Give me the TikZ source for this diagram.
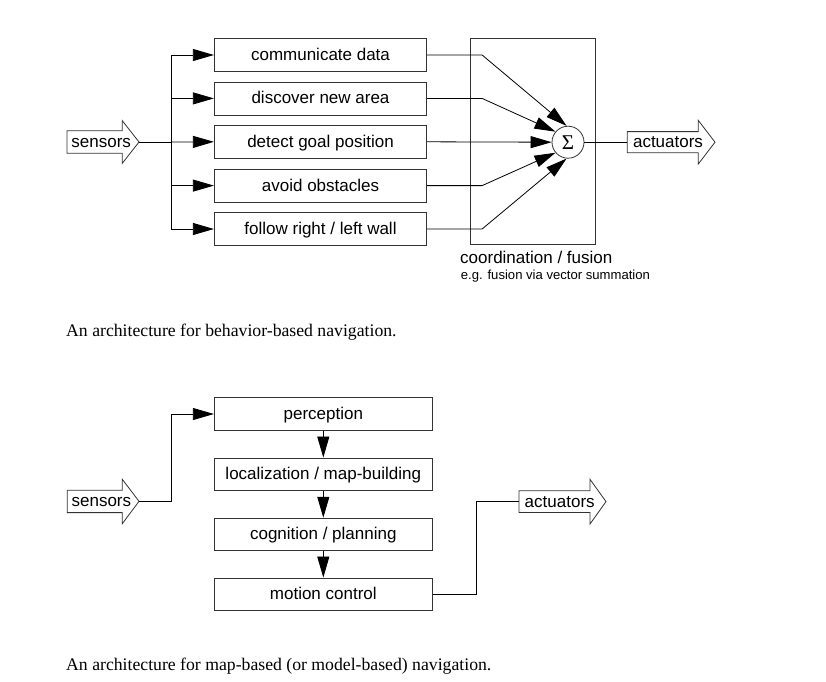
\documentclass[tikz,border=0pt]{standalone}
\usepackage{fontspec}
\setmainfont{Liberation Serif}
\newfontfamily\arial{Liberation Sans}
\usetikzlibrary{arrows.meta}
\begin{document}
\begin{tikzpicture}[x=1pt,y=-1pt,
  box/.style={draw=black!80, line width=0.8pt, minimum width=212.4pt, minimum height=33pt,
    inner sep=0pt, text height=12.2pt, text depth=1.4pt, font=\arial\fontsize{17}{20}\selectfont},
  lbl/.style={inner sep=0pt, text height=12.2pt, text depth=1.4pt, font=\arial\fontsize{17}{20}\selectfont},
  conn/.style={line width=0.8pt, draw=black},
  arr/.style={conn, -{Triangle[length=21pt,width=12pt]}},
  outline/.style={draw=black!80, line width=0.8pt, fill=white},
  caption/.style={anchor=base west, inner sep=0pt, font=\fontsize{17.7}{20}\selectfont}]
\fill[white] (0,0) rectangle (826,681);
\useasboundingbox (0,0) rectangle (826,681);

% ---------- behaviour-based ----------
\draw[outline] (67,130.8) -- (122.3,130.8) -- (122.3,120.7) -- (139,142) -- (122.3,163.3) -- (122.3,153.2) -- (67,153.2) -- cycle;
\node[lbl] (sens1) at (101.2,142) {sensors};
\coordinate (s1tip) at (139,142);

\node[box] (b1) at (320.5,55) {communicate data};
\node[box] (b2) at (320.5,98.4) {discover new area};
\node[box] (b3) at (320.5,141.8) {detect goal position};
\node[box] (b4) at (320.5,185.6) {avoid obstacles};
\node[box] (b5) at (320.5,229) {follow right / left wall};

\coordinate (br) at (171,142);
\draw[conn] (s1tip) -- (br);
\draw[arr] (br) |- (b1.west);
\draw[arr] (br) |- (b2.west);
\draw[arr] (br) -- (b3.west);
\draw[arr] (br) |- (b4.west);
\draw[arr] (br) |- (b5.west);

\node[draw=black!80, line width=0.8pt, minimum width=125.7pt, minimum height=206pt, inner sep=0pt] (fus) at (532.9,141.3) {};
\node[anchor=west, inner sep=0pt, font=\arial\fontsize{17}{20}\selectfont] (fuslbl) at (460,257.5) {coordination / fusion};
\node[anchor=west, inner sep=0pt, font=\arial\fontsize{13.1}{15}\selectfont] (fussub) at (460.7,276.5) {e.g. fusion via vector summation};

\node[draw=black!80, circle, line width=0.8pt, minimum size=32pt, inner sep=0pt, fill=white,
  font=\fontsize{21}{22}\selectfont] (sig) at (568,142.2) {Σ};

\draw[arr] (b1.east) -- ++(55,0) -- (sig.95);
\draw[arr] (b2.east) -- ++(55,0) -- (sig.140);
\draw[arr] (b3.east) -- (sig.west);
\draw[arr] (b4.east) -- ++(55,0) -- (sig.220);
\draw[arr] (b5.east) -- ++(55,0) -- (sig.265);

\draw[outline] (627.3,131.6) -- (698.3,131.6) -- (698.3,120.4) -- (715,142.2) -- (698.3,164) -- (698.3,152.8) -- (627.3,152.8) -- cycle;
\node[lbl] (act1) at (668,142.2) {actuators};
\coordinate (a1left) at (627.3,142.2);
\draw[conn] (sig.east) -- (a1left);

\node[caption] (cap1) at (66,336) {An architecture for behavior-based navigation.};

% ---------- map-based ----------
\draw[outline] (67.3,490.2) -- (122.3,490.2) -- (122.3,479.3) -- (139,501.3) -- (122.3,523.7) -- (122.3,512.6) -- (67.3,512.6) -- cycle;
\node[lbl] (sens2) at (101.4,501.3) {sensors};
\coordinate (s2tip) at (139,501.3);

\node[box, minimum width=218pt, minimum height=32.5pt] (p1) at (323.3,414) {perception};
\node[box, minimum width=218pt, minimum height=32.5pt] (p2) at (323.3,474.2) {localization / map-building};
\node[box, minimum width=218pt, minimum height=32.5pt] (p3) at (323.3,534.4) {cognition / planning};
\node[box, minimum width=218pt, minimum height=32.5pt] (p4) at (323.3,594.2) {motion control};

\draw[arr] (s2tip) -- ++(32,0) |- (p1.west);
\draw[arr] (p1.south) -- (p2.north);
\draw[arr] (p2.south) -- (p3.north);
\draw[arr] (p3.south) -- (p4.north);

\draw[outline] (519,490.7) -- (590,490.7) -- (590,479.3) -- (606,501.6) -- (590,524) -- (590,512.4) -- (519,512.4) -- cycle;
\node[lbl] (act2) at (559.7,501.6) {actuators};
\coordinate (a2left) at (519,501.6);
\draw[conn] (p4.east) -- ++(43.4,0) |- (a2left);

\node[caption] (cap2) at (66,670) {An architecture for map-based (or model-based) navigation.};
\end{tikzpicture}
\end{document}
